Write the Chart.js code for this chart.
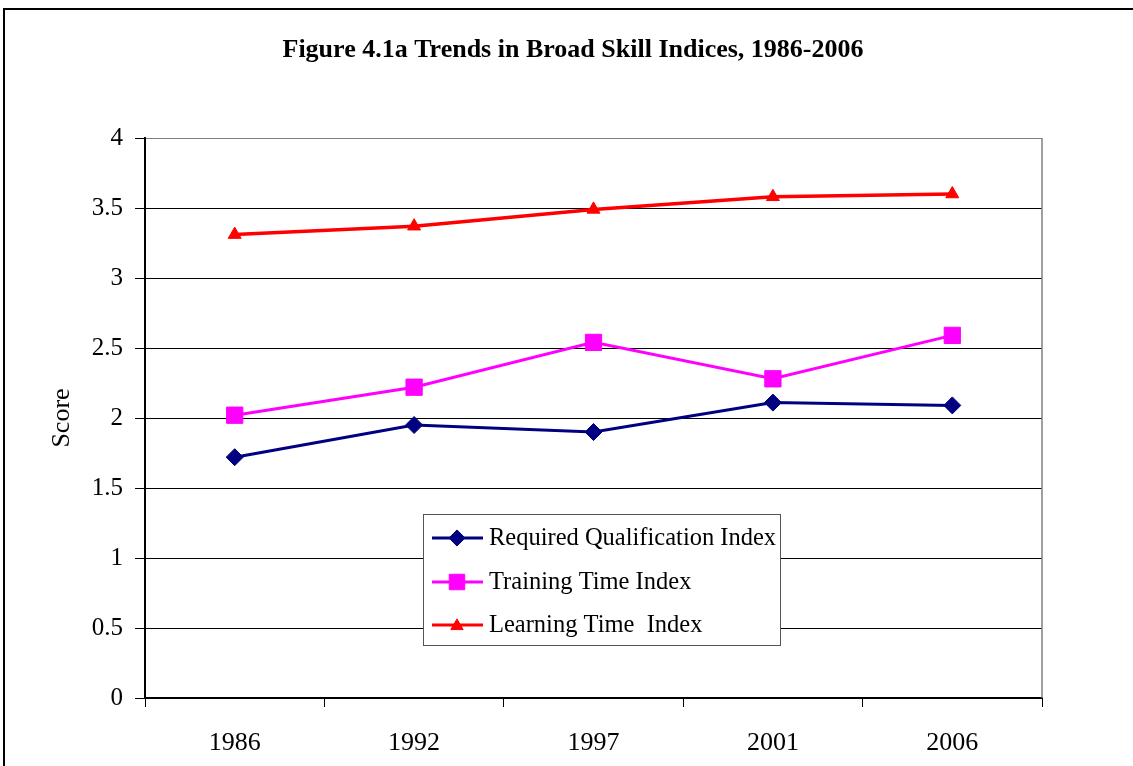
<!DOCTYPE html>
<html>
<head>
<meta charset="utf-8">
<script src="https://cdn.jsdelivr.net/npm/chart.js@4/dist/chart.umd.min.js"></script>
<style>
html,body{margin:0;padding:0;background:#fff;overflow:hidden;}
#frame{position:absolute;left:3px;top:8px;width:1200px;height:800px;border:2px solid #000;box-sizing:border-box;}
#wrap{position:absolute;left:0;top:0;width:1133px;height:766px;}
</style>
</head>
<body>
<div id="frame"></div>
<div id="wrap"><canvas id="c" width="1133" height="766"></canvas></div>
<script>
const titleText = 'Figure 4.1a Trends in Broad Skill Indices, 1986-2006';
const yTitle = 'Score';
const years = ['1986', '1992', '1997', '2001', '2006'];
const requiredQualification = [1.72, 1.95, 1.90, 2.11, 2.09];
const trainingTime = [2.02, 2.22, 2.54, 2.28, 2.59];
const learningTime = [3.31, 3.37, 3.49, 3.58, 3.60];
const seriesNames = ['Required Qualification Index', 'Training Time Index', 'Learning Time  Index'];

const serif = "'Liberation Serif','Times New Roman',serif";

const pageTitle = {
  id: 'pageTitle',
  afterDraw(chart) {
    const ctx = chart.ctx;
    ctx.save();
    ctx.fillStyle = '#000';
    ctx.font = 'bold 26px ' + serif;
    ctx.textAlign = 'center';
    ctx.textBaseline = 'middle';
    ctx.fillText(titleText, 573, 50);
    ctx.restore();
  }
};

const boxLegend = {
  id: 'boxLegend',
  afterDraw(chart) {
    const ctx = chart.ctx;
    const x0 = 423, y0 = 514, w = 357, h = 131;
    ctx.save();
    ctx.fillStyle = '#fff';
    ctx.fillRect(x0, y0, w, h);
    ctx.strokeStyle = '#555';
    ctx.lineWidth = 1;
    ctx.strokeRect(x0 + 0.5, y0 + 0.5, w, h);
    const rows = [538, 582, 625];
    chart.data.datasets.forEach((ds, i) => {
      const y = rows[i];
      ctx.strokeStyle = ds.borderColor;
      ctx.lineWidth = 3;
      ctx.beginPath();
      ctx.moveTo(432, y);
      ctx.lineTo(483, y);
      ctx.stroke();
      ctx.fillStyle = ds.borderColor;
      ctx.strokeStyle = ds.borderColor;
      ctx.lineWidth = 1;
      Chart.helpers.drawPoint(ctx, {pointStyle: ds.pointStyle, rotation: 0, borderWidth: 1, radius: ds.pointRadius * 0.95}, 457, y + (ds.pointStyle === 'triangle' ? 1 : 0));
      ctx.fillStyle = '#000';
      ctx.font = '24.5px ' + serif;
      ctx.textBaseline = 'middle';
      ctx.textAlign = 'left';
      ctx.fillText(ds.label, 489, y + 1);
    });
    ctx.restore();
  }
};

const plotBorder = {
  id: 'plotBorder',
  beforeDatasetsDraw(chart) {
    const {ctx, chartArea: a} = chart;
    ctx.save();
    ctx.strokeStyle = '#808080';
    ctx.lineWidth = 1.5;
    ctx.beginPath();
    ctx.moveTo(a.right, a.top);
    ctx.lineTo(a.right, a.bottom);
    ctx.stroke();
    ctx.restore();
  }
};

new Chart(document.getElementById('c'), {
  type: 'line',
  data: {
    labels: years,
    datasets: [
      {label: seriesNames[0], data: requiredQualification, borderColor: '#000080', backgroundColor: '#000080', borderWidth: 3, pointStyle: 'rectRot', pointRadius: 8.5, pointBorderWidth: 1, tension: 0},
      {label: seriesNames[1], data: trainingTime, borderColor: '#FF00FF', backgroundColor: '#FF00FF', borderWidth: 3, pointStyle: 'rect', pointRadius: 11.5, pointBorderWidth: 1, tension: 0},
      {label: seriesNames[2], data: learningTime, borderColor: '#FF0000', backgroundColor: '#FF0000', borderWidth: 3.5, pointStyle: 'triangle', pointRadius: 7.5, pointBorderWidth: 1, tension: 0}
    ]
  },
  options: {
    responsive: false,
    animation: false,
    devicePixelRatio: 1,
    layout: {padding: {left: 0, right: 91, top: 138, bottom: 0}},
    plugins: {
      legend: {display: false},
      tooltip: {enabled: false},
      title: {display: false}
    },
    scales: {
      x: {
        offset: true,
        grid: {display: true, offset: true, drawOnChartArea: false, drawTicks: true, tickLength: 9, color: '#000', tickWidth: 1},
        border: {display: true, color: '#000', width: 2},
        ticks: {color: '#000', font: {family: serif, size: 26}, padding: 21},
        afterFit(s) { s.height = 68; }
      },
      y: {
        min: 0, max: 4,
        ticks: {stepSize: 0.5, color: '#000', font: {family: serif, size: 25}, padding: 12, callback: (v) => String(v)},
        grid: {color: (c) => c.tick && c.tick.value === 4 ? '#808080' : '#000', lineWidth: 1, tickLength: 10, tickColor: '#000'},
        border: {display: true, color: '#000', width: 2},
        title: {display: true, text: yTitle, color: '#000', font: {family: serif, size: 26, lineHeight: 1.2}, padding: {top: 47, bottom: 0}},
        afterFit(s) { s.width = 145; }
      }
    }
  },
  plugins: [plotBorder, boxLegend, pageTitle]
});
</script>
</body>
</html>
